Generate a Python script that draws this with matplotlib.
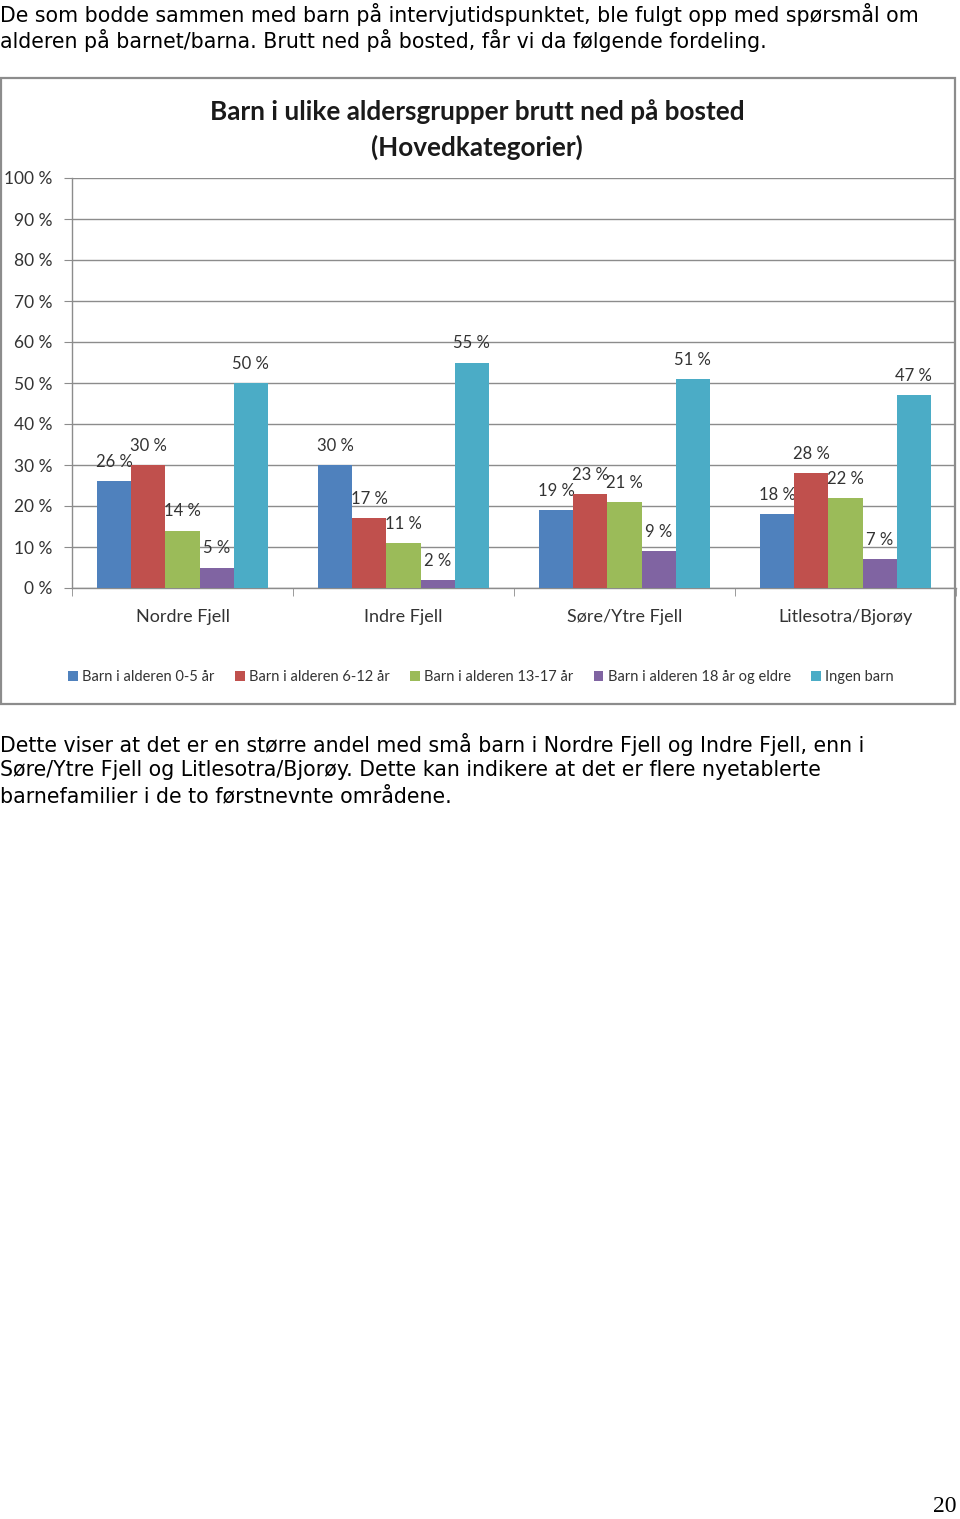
import matplotlib
matplotlib.use("Agg")
import matplotlib.pyplot as plt
import numpy as np
from matplotlib.patches import Rectangle, Patch

# ---------------- data ----------------
categories = ["Nordre Fjell", "Indre Fjell", "Søre/Ytre Fjell", "Litlesotra/Bjorøy"]
series_names = ["Barn i alderen 0-5 år", "Barn i alderen 6-12 år",
                "Barn i alderen 13-17 år", "Barn i alderen 18 år og eldre",
                "Ingen barn"]
age_0_5 = [26, 30, 19, 18]
age_6_12 = [30, 17, 23, 28]
age_13_17 = [14, 11, 21, 22]
age_18_plus = [5, 2, 9, 7]
no_children = [50, 55, 51, 47]
y_ticks = [0, 10, 20, 30, 40, 50, 60, 70, 80, 90, 100]
y_tick_labels = [f"{v} %" for v in y_ticks]

title = "Barn i ulike aldersgrupper brutt ned på bosted\n(Hovedkategorier)"
text_above = ["De som bodde sammen med barn på intervjutidspunktet, ble fulgt opp med spørsmål om",
              "alderen på barnet/barna. Brutt ned på bosted, får vi da følgende fordeling."]
text_below = ["Dette viser at det er en større andel med små barn i Nordre Fjell og Indre Fjell, enn i",
              "Søre/Ytre Fjell og Litlesotra/Bjorøy. Dette kan indikere at det er flere nyetablerte",
              "barnefamilier i de to førstnevnte områdene."]
page_number = "20"

colors = ["#4F81BD", "#C0504D", "#9BBB59", "#8064A2", "#4BACC6"]
series = [age_0_5, age_6_12, age_13_17, age_18_plus, no_children]

W, H = 960, 1519
fig = plt.figure(figsize=(W / 100, H / 100), dpi=100)

def fx(px):
    return px / W

def fy(py):
    return 1 - py / H

chart_font = ["Lato", "DejaVu Sans"]
body_font = ["DejaVu Sans"]

# page text
for i, line in enumerate(text_above):
    fig.text(fx(0), fy(14 + 26 * i), line, fontsize=14.8, family=body_font,
             ha="left", va="center")
for i, line in enumerate(text_below):
    fig.text(fx(0), fy(744 + 26 * i), line, fontsize=14.8, family=body_font,
             ha="left", va="center")
fig.text(fx(956), fy(1507), page_number, fontsize=17, family=["Liberation Serif"],
         ha="right", va="center")

# chart border
fig.patches.append(Rectangle((fx(1), fy(704)), fx(955) - fx(1), fy(78) - fy(704),
                             transform=fig.transFigure, fill=False,
                             edgecolor="#8C8C8C", linewidth=1.6))

# title
fig.text(fx(477), fy(130), title, fontsize=18.8, fontweight="bold", family=chart_font,
         ha="center", va="center", linespacing=1.5, color="#1a1a1a")

# axes
ax = fig.add_axes([fx(72), fy(588), fx(956) - fx(72), fy(178) - fy(588)])
x = np.arange(len(categories))
bw = 0.154
for k, (vals, name, c) in enumerate(zip(series, series_names, colors)):
    bars = ax.bar(x + (k - 2) * bw, vals, width=bw, color=c, label=name, zorder=3)
    ax.bar_label(bars, labels=[f"{v} %" for v in vals], padding=8,
                 fontsize=12, family=chart_font, color="#333333")

ax.set_xlim(-0.5, len(categories) - 0.5)
ax.set_ylim(0, 100)
ax.set_yticks(y_ticks)
ax.set_yticklabels(y_tick_labels, family=chart_font, fontsize=12.5, color="#333333")
ax.tick_params(axis="y", length=6, color="#8C8C8C", pad=8)
ax.yaxis.grid(True, color="#8C8C8C", linewidth=1.0, zorder=0)
ax.set_xticks(x)
ax.set_xticklabels(categories, family=chart_font, fontsize=13, color="#333333")
ax.tick_params(axis="x", which="major", length=0, pad=15)
ax.set_xticks(np.arange(-0.5, len(categories) - 0.4, 1.0), minor=True)
ax.tick_params(axis="x", which="minor", length=6, color="#8C8C8C", direction="out")
for s in ["top", "right"]:
    ax.spines[s].set_visible(False)
for s in ["left", "bottom"]:
    ax.spines[s].set_color("#8C8C8C")
    ax.spines[s].set_linewidth(1.0)
ax.set_axisbelow(True)

handles = [Patch(facecolor=c, edgecolor="none") for c in colors]
fig.legend(handles, series_names, loc="center", bbox_to_anchor=(fx(481), fy(677)),
           ncol=5, frameon=False, prop={"family": chart_font, "size": 10.5},
           handlelength=0.65, handleheight=0.65, handletextpad=0.3, columnspacing=1.4,
           labelcolor="#333333")

fig.savefig("out.png", dpi=100, facecolor="white")
